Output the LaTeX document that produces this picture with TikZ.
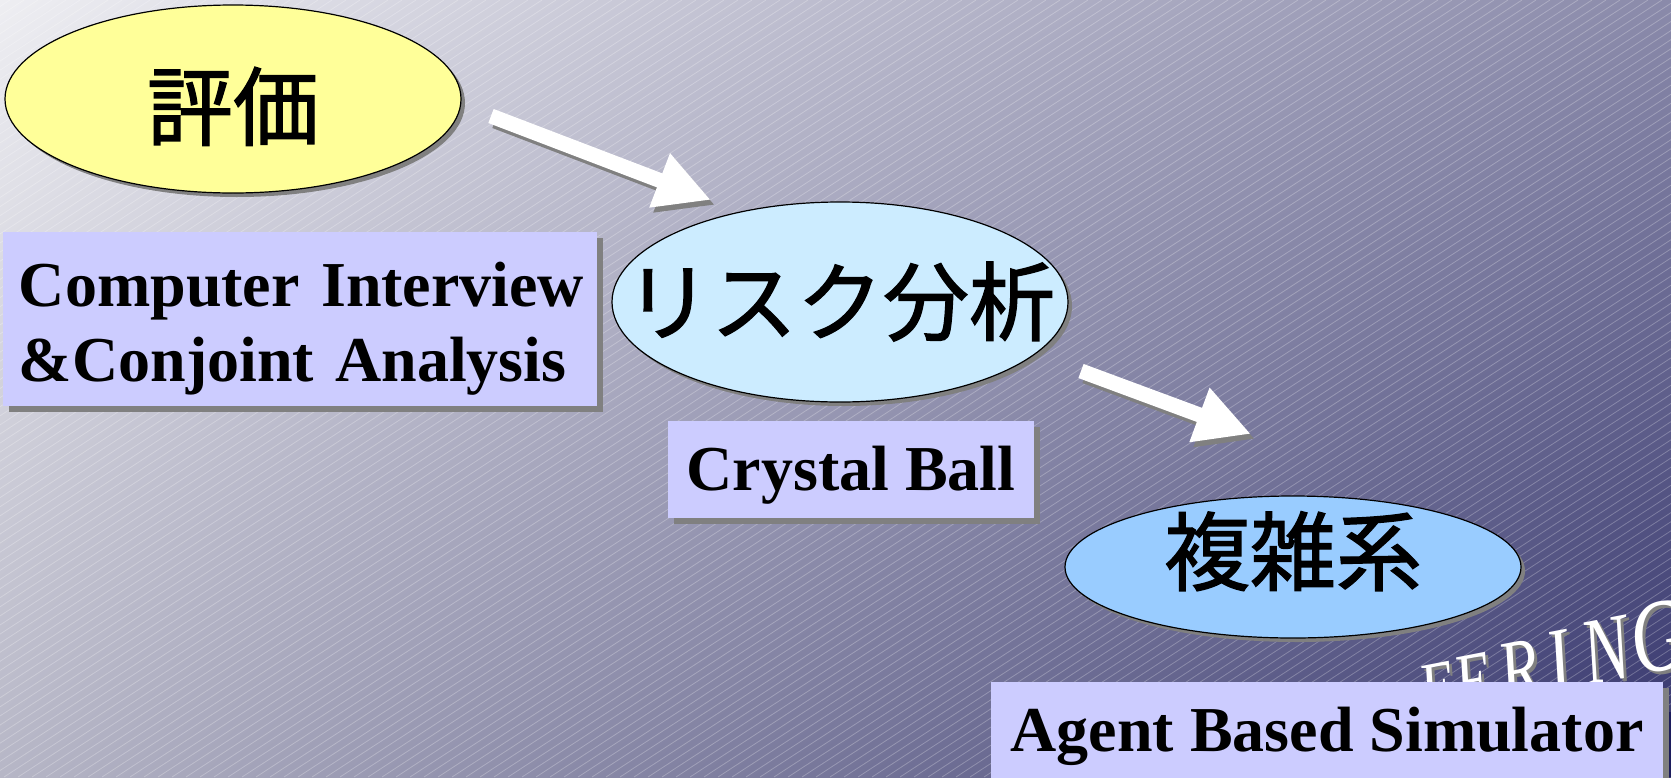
\documentclass[tikz,border=0pt]{standalone}
\usepackage{fontspec}
\setmainfont{Liberation Serif}
\newfontfamily\jpfont[FakeBold=1.5]{Noto Sans CJK JP}
\usetikzlibrary{shapes.geometric,arrows.meta,shadows,shadings}
\definecolor{bgUL}{RGB}{238,238,242}
\definecolor{bgUR}{RGB}{138,138,170}
\definecolor{bgLL}{RGB}{182,182,198}
\definecolor{bgLR}{RGB}{52,52,108}
\definecolor{yellowfill}{RGB}{255,255,153}
\definecolor{cyanfill}{RGB}{204,236,255}
\definecolor{bluefill}{RGB}{153,204,255}
\definecolor{boxfill}{RGB}{204,204,255}
\definecolor{shadowgray}{RGB}{128,128,128}
\definecolor{logodark}{RGB}{28,28,92}
\newcommand{\decoword}{\scalebox{0.75}[1]{\fontsize{76}{76}\selectfont E\kern1.3pt\fontsize{80}{80}\selectfont E\kern12pt\fontsize{86}{86}\selectfont R\kern13pt\fontsize{91}{91}\selectfont I\kern17pt\fontsize{95}{95}\selectfont N\kern4pt\fontsize{103}{103}\selectfont G}}
\tikzset{
  ell/.style={ellipse, draw=black, line width=1.2pt, inner sep=0pt,
    general shadow={fill=shadowgray, shadow xshift=4pt, shadow yshift=-4pt},
    font=\jpfont\fontsize{86}{90}\selectfont},
  lbl/.style={fill=boxfill, inner xsep=16pt, inner ysep=0pt,
    general shadow={fill=shadowgray, shadow xshift=6pt, shadow yshift=-6pt},
    font=\bfseries\fontsize{64}{75}\selectfont},
  blockarrow/.style={line width=15pt, -{Triangle[width=54pt,length=55pt]}},
  stripe/.style={white, opacity=0.25, line width=0.8pt},
  deco/.style={font=\itshape, anchor=base west, rotate=11, inner sep=0pt},
}
\begin{document}
\begin{tikzpicture}[x=1pt,y=-1pt]
\clip (0,0) rectangle (1671,777);
\shade[upper left=bgUL, upper right=bgUR, lower left=bgLL, lower right=bgLR] (0,0) rectangle (1671,777);
\foreach \i in {-1200,-1186,...,1680} \draw[stripe] (\i,777) -- ++(1196,-777);

% decorative word behind the last box
\node[deco, text=shadowgray] (decoshadow) at (1428,720) {\decoword};
\node[deco, text=white] (decoword) at (1425,717) {\decoword};
\fill[logodark] (1663,712) rectangle (1671,777);

% arrows
\coordinate (a1s) at (491,116); \coordinate (a1e) at (711,200);
\coordinate (a2s) at (1081,371); \coordinate (a2e) at (1251,434);
\draw[blockarrow, shadowgray] ([shift={(4,5)}]a1s) -- ([shift={(4,5)}]a1e);
\draw[blockarrow, white] (a1s) -- (a1e);
\draw[blockarrow, shadowgray] ([shift={(4,5)}]a2s) -- ([shift={(4,5)}]a2e);
\draw[blockarrow, white] (a2s) -- (a2e);

% ellipses
\node[ell, fill=yellowfill, minimum width=456pt, minimum height=188pt, text height=84pt, text depth=4pt] (e1) at (233,99) {\makebox[0pt]{評価}};
\node[ell, fill=cyanfill, minimum width=456pt, minimum height=200pt, text height=68pt, text depth=4pt] (e2) at (840,302) {\makebox[0pt]{リスク分析}};
\node[ell, fill=bluefill, minimum width=456pt, minimum height=142pt, text height=40pt, text depth=6pt] (e3) at (1293,567) {\makebox[0pt]{複雑系}};

% label boxes
\node[lbl, minimum width=594pt, minimum height=174pt, text width=562pt, align=left, text height=40pt, text depth=66pt] (b1) at (300,319) {\mbox{Computer Interview}\\\mbox{\&Conjoint Analysis}};
\node[lbl, minimum width=366pt, minimum height=97pt, text height=50pt, text depth=9pt] (b2) at (851,469.5) {Crystal Ball};
\node[lbl, minimum width=672pt, minimum height=108pt, text height=45pt, text depth=15pt] (b3) at (1327,736) {Agent Based Simulator};
\end{tikzpicture}
\end{document}
